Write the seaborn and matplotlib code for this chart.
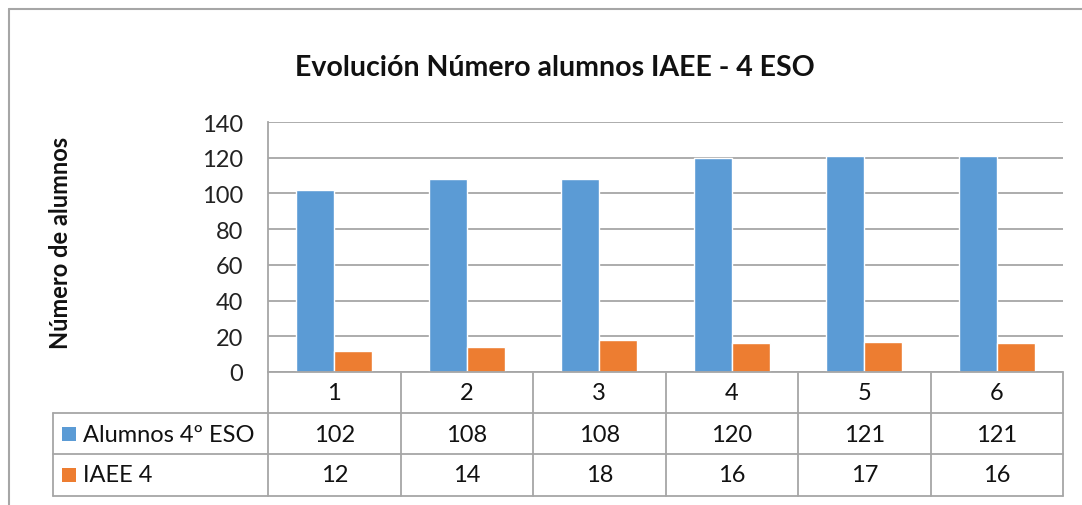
import matplotlib
matplotlib.use("Agg")
import matplotlib.pyplot as plt
import matplotlib.transforms as mtransforms
import seaborn as sns
import pandas as pd
from matplotlib.lines import Line2D
from matplotlib.patches import Rectangle

# Data
categorias = ["1", "2", "3", "4", "5", "6"]
alumnos_4eso = [102, 108, 108, 120, 121, 121]
iaee_4 = [12, 14, 18, 16, 17, 16]
series = ["Alumnos 4º ESO", "IAEE 4"]
colores = ["#5B9BD5", "#ED7D31"]
y_ticks = [0, 20, 40, 60, 80, 100, 120, 140]

df = pd.DataFrame({
    "Año": categorias * 2,
    "Valor": alumnos_4eso + iaee_4,
    "Serie": [series[0]] * len(categorias) + [series[1]] * len(categorias),
})

sns.set_style("white")
plt.rcParams["font.family"] = ["Lato", "DejaVu Sans"]

W, H = 1082, 506
GRIS = "#a6a6a6"
TXT = "#111111"


def fx(px):
    return px / W


def fy(py):
    return 1 - py / H


fig = plt.figure(figsize=(W / 100, H / 100), dpi=100)
ax = fig.add_axes([fx(268), fy(373), fx(1063) - fx(268), fy(123) - fy(373)])

sns.barplot(data=df, x="Año", y="Valor", hue="Serie", palette=colores,
            width=0.575, saturation=1, legend=False, ax=ax)

ax.set_xlim(-0.5, len(categorias) - 0.5)
ax.set_ylim(0, 140)
ax.set_yticks(y_ticks)
ax.set_xticks([])
ax.set_xlabel("")
ax.set_ylabel("")
ax.yaxis.grid(True, color=GRIS, lw=1.3)
ax.set_axisbelow(True)
ax.tick_params(axis="y", length=0, pad=18, labelsize=17, labelcolor="#222222")
for s in ["top", "right"]:
    ax.spines[s].set_visible(False)
for s in ["left", "bottom"]:
    ax.spines[s].set_color(GRIS)
    ax.spines[s].set_linewidth(1.3)

# Title and y label
fig.text(fx(555), fy(68), "Evolución Número alumnos IAEE - 4 ESO",
         ha="center", va="center", fontsize=20.5, fontweight="bold", color=TXT)
fig.text(fx(60), fy(243), "Número de alumnos", rotation=90,
         ha="center", va="center", fontsize=17, fontweight="bold", color=TXT)

# Data table below the axis
bt = mtransforms.blended_transform_factory(ax.transData, fig.transFigure)
filas_y = [374, 414, 455, 497]
for y in filas_y[1:]:
    fig.add_artist(Line2D([fx(53), fx(1063)], [fy(y), fy(y)], color=GRIS, lw=1.3))
fig.add_artist(Line2D([fx(53), fx(53)], [fy(414), fy(497)], color=GRIS, lw=1.3))
for k in range(len(categorias) + 1):
    fig.add_artist(Line2D([k - 0.5, k - 0.5], [fy(374), fy(497)], color=GRIS,
                          lw=1.3, transform=bt))

for i, cat in enumerate(categorias):
    fig.text(i, fy(394), cat, ha="center", va="center", fontsize=17,
             color=TXT, transform=bt)
    fig.text(i, fy(435), str(alumnos_4eso[i]), ha="center", va="center",
             fontsize=17, color=TXT, transform=bt)
    fig.text(i, fy(476), str(iaee_4[i]), ha="center", va="center",
             fontsize=17, color=TXT, transform=bt)

for nombre, color, yc in zip(series, colores, [435, 476]):
    fig.add_artist(Rectangle((fx(62), fy(yc + 7)), fx(14), 14 / H,
                             facecolor=color, edgecolor="none"))
    fig.text(fx(83), fy(yc), nombre, ha="left", va="center", fontsize=17,
             color=TXT)

# Outer chart border
fig.add_artist(Line2D([fx(9), fx(W)], [fy(10), fy(10)], color=GRIS, lw=1.5))
fig.add_artist(Line2D([fx(9), fx(9)], [fy(10), fy(H)], color=GRIS, lw=1.5))

fig.savefig("out.png", dpi=100)
